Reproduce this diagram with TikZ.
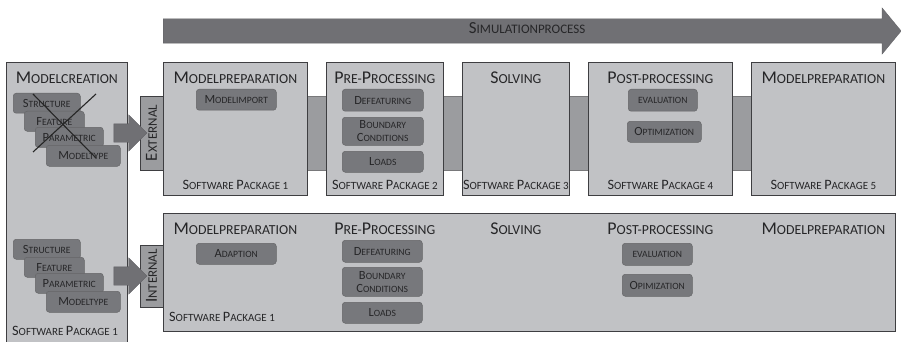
\documentclass[tikz,border=0pt]{standalone}
\usepackage{fontspec}
\setmainfont{Carlito}
\usetikzlibrary{shapes.arrows}

\definecolor{boxgray}{RGB}{193,194,197}
\definecolor{bandgray}{RGB}{155,156,159}
\definecolor{taskgray}{RGB}{119,120,124}
\definecolor{arrowgray}{RGB}{112,112,116}
\definecolor{linegray}{RGB}{62,62,65}
\definecolor{textgray}{RGB}{38,38,40}

% first letter of a small-caps word, set larger
\makeatletter
\newcommand\upc[1]{{\fontsize{\the\dimexpr\f@size pt*13/10\relax}{12pt}\selectfont #1}}
\makeatother

\begin{document}
\begin{tikzpicture}
[x=1pt, y=-1pt,
 phase/.style={draw=linegray, fill=boxgray, line width=0.7pt, anchor=north west, inner sep=0pt},
 title/.style={text=textgray, font=\fontsize{13.8}{15}\selectfont, inner sep=0pt},
 package/.style={text=textgray, font=\fontsize{11}{13}\selectfont, inner sep=0pt},
 task/.style={draw=linegray!80, fill=taskgray, line width=0.5pt, rounded corners=3pt, anchor=north west,
   inner sep=0pt, align=center, text=textgray, font=\fontsize{9.6}{13}\selectfont},
 flowlabel/.style={draw=linegray, fill=bandgray, line width=0.5pt, rotate=90, inner sep=0pt,
   text=textgray, font=\fontsize{13}{15}\selectfont},
 blockarrow/.style={single arrow, anchor=tail, fill=arrowgray, draw=arrowgray!85!black, line width=0.3pt,
   text height=9pt, text depth=9pt, minimum height=33pt, single arrow head extend=9pt, inner sep=0pt}]

\useasboundingbox (0,0) rectangle (901,342);

% process arrow on top
\node (process) at (163,31) [single arrow, anchor=tail, fill=arrowgray, draw=arrowgray!85!black, line width=0.3pt,
  text height=15pt, text depth=9pt, minimum height=738pt, single arrow head extend=11pt, single arrow tip angle=101,
  inner sep=0pt, text=textgray, font=\fontsize{13}{15}\selectfont] {\upc{S}IMULATIONPROCESS};

% gray band behind the external chain
\draw [draw=linegray!70, fill=bandgray, line width=0.4pt] (140,96) rectangle (751,170);

\node (create) at (6,62) [phase, minimum width=121pt, minimum height=285pt] {};
\node (create-title) [title] at ([yshift=-16pt]create.north) {\upc{M}ODELCREATION};
\node (create-pkg) [package] at (65,331) {\upc{S}OFTWARE \upc{P}ACKAGE 1};

\node (internal) at (163,213) [phase, minimum width=732pt, minimum height=118pt] {};
\node (internal-pkg) [package] at (222,317) {\upc{S}OFTWARE \upc{P}ACKAGE 1};
\coordinate (introw) at (0,229);

\foreach \name/\x/\w/\ttl/\pkg in {
  prep/163/144/{\upc{M}ODELPREPARATION}/1,
  pre/326/117/{\upc{P}RE-\upc{P}ROCESSING}/2,
  solve/462/107/{\upc{S}OLVING}/3,
  post/588/144/{\upc{P}OST-PROCESSING}/4,
  prep5/751/144/{\upc{M}ODELPREPARATION}/5}
{
  \node (\name) at (\x,62) [phase, minimum width=\w pt, minimum height=133pt] {};
  \node (\name-title) [title] at ([yshift=-16pt]\name.north) {\ttl};
  \node (\name-pkg) [package] at ([yshift=11pt]\name.south) {\upc{S}OFTWARE \upc{P}ACKAGE \pkg};
  \node (\name-int) [title] at (\name.north |- introw) {\ttl};
}

% tasks inside the phases
\foreach \name/\x/\y/\w/\h/\txt in {
  import/196/89/80/21/{\upc{M}ODELIMPORT},
  defeat/342/89/81/22/{\upc{D}EFEATURING},
  bc/342/117/81/28/{\upc{B}OUNDARY\\\upc{C}ONDITIONS},
  loads/342/151/81/21/{\upc{L}OADS},
  eval/628/89/69/22/{EVALUATION},
  optim/627/121/74/21/{\upc{O}PTIMIZATION},
  adapt/196/243/80/21/{\upc{A}DAPTION},
  defeat-int/342/240/80/22/{\upc{D}EFEATURING},
  bc-int/342/267/80/29/{\upc{B}OUNDARY\\\upc{C}ONDITIONS},
  loads-int/342/302/80/21/{\upc{L}OADS},
  eval-int/622/243/70/22/{EVALUATION},
  optim-int/622/274/70/22/{\upc{O}PIMIZATION}}
  \node (\name) at (\x,\y) [task, minimum width=\w pt, minimum height=\h pt] {\txt};

% model stacks in the creation box
\foreach \dy/\tag in {0/ext, 146/int} {
  \node (struct-\tag) at (13,93+\dy) [task, minimum width=67pt, minimum height=20pt] {\upc{S}TRUCTURE};
  \node (feature-\tag) at (24,111+\dy) [task, minimum width=60pt, minimum height=20pt] {\upc{F}EATURE};
  \node (param-\tag) at (35,127+\dy) [task, minimum width=68pt, minimum height=20pt] {\upc{P}ARAMETRIC};
  \node (type-\tag) at (46,145+\dy) [task, minimum width=74pt, minimum height=21pt] {\upc{M}ODELTYPE};
}

% crossed out
\draw [line width=1.1pt, black!85] (33,94) -- (96,158) (96,94) -- (33,152);

\node (ext-label) at (151.5,133) [flowlabel, minimum width=74pt, minimum height=23pt] {\upc{E}XTERNAL};
\node (int-label) at (151.5,276) [flowlabel, minimum width=62pt, minimum height=23pt] {\upc{I}NTERNAL};

\node (ext-arrow) at ([xshift=-14pt]create.east |- ext-label) [blockarrow] {};
\node (int-arrow) at ([xshift=-14pt]create.east |- int-label) [blockarrow] {};

\end{tikzpicture}
\end{document}
